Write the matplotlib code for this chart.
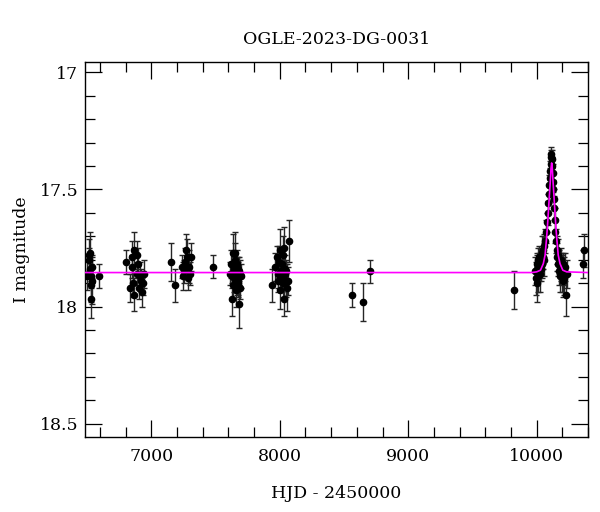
import matplotlib
matplotlib.use("Agg")
import matplotlib.pyplot as plt
from matplotlib.ticker import MultipleLocator

# ── photometry (HJD-2450000, I mag, error) ──
hjd = [
    # 2013
    6500, 6512, 6518, 6522, 6525, 6528, 6530, 6533, 6536, 6540, 6590,
    # 2014
    6800, 6835, 6847, 6852, 6858, 6862, 6868, 6886, 6892, 6899, 6905, 6912, 6920, 6928, 6935, 6945,
    # 2015
    7154, 7185, 7237, 7250, 7258, 7265, 7270, 7278, 7285, 7295, 7303, 7312, 7480,
    # 2016
    7615, 7620, 7625, 7630, 7634, 7638, 7640, 7645, 7648, 7652, 7655, 7658, 7662, 7665, 7668,
    7672, 7675, 7678, 7682, 7685, 7690, 7694, 7698,
    # 2017
    7936, 7965, 7975, 7985, 7990, 7995, 8000, 8005, 8008, 8012, 8016, 8020, 8024, 8028, 8032,
    8036, 8040, 8044, 8048, 8052, 8058, 8065, 8070,
    # sparse
    8565, 8650, 8705, 9820,
    # 2023 event
    9990, 9995, 10000, 10003, 10006, 10010, 10014, 10018, 10022, 10026, 10030, 10034, 10038,
    10042, 10046, 10050, 10055, 10060,
    10068, 10074, 10080, 10086, 10090, 10094, 10098, 10102, 10106, 10109, 10112, 10115, 10118,
    10121, 10124, 10127, 10130, 10133, 10137, 10141, 10146, 10152, 10158,
    10162, 10166, 10170, 10174, 10178, 10182, 10186, 10190, 10194, 10198, 10202, 10206, 10210,
    10215, 10220, 10232, 10240,
    10362, 10368,
]
mag = [
    17.87, 17.78, 17.80, 17.84, 17.77, 17.87, 17.91, 17.97, 17.83, 17.89, 17.87,
    17.81, 17.92, 17.83, 17.79, 17.90, 17.95, 17.76, 17.78, 17.86, 17.82, 17.92, 17.87, 17.89, 17.94, 17.90, 17.86,
    17.81, 17.91, 17.83, 17.87, 17.85, 17.81, 17.76, 17.79, 17.88, 17.83, 17.86, 17.79, 17.83,
    17.86, 17.82, 17.97, 17.87, 17.77, 17.91, 17.84, 17.88, 17.80, 17.77, 17.86, 17.93, 17.89, 17.82, 17.87,
    17.84, 17.90, 17.88, 17.99, 17.85, 17.92, 17.86, 17.87,
    17.91, 17.83, 17.79, 17.86, 17.89, 17.81, 17.93, 17.76, 17.85, 17.88, 17.82, 17.87, 17.90, 17.78, 17.97,
    17.75, 17.86, 17.84, 17.89, 17.85, 17.92, 17.89, 17.72,
    17.95, 17.98, 17.85, 17.93,
    17.85, 17.88, 17.82, 17.90, 17.84, 17.80, 17.87, 17.83, 17.79, 17.86, 17.81, 17.84, 17.77,
    17.82, 17.79, 17.76, 17.80, 17.74,
    17.72, 17.68, 17.64, 17.60, 17.56, 17.52, 17.48, 17.45, 17.42, 17.39, 17.36, 17.35, 17.37,
    17.40, 17.43, 17.47, 17.50, 17.54, 17.58, 17.63, 17.68, 17.72, 17.76,
    17.79, 17.82, 17.78, 17.85, 17.81, 17.87, 17.83, 17.80, 17.86, 17.84, 17.89, 17.82, 17.85,
    17.88, 17.83, 17.95, 17.86,
    17.82, 17.76,
]
err = [
    0.06, 0.07, 0.05, 0.06, 0.09, 0.05, 0.07, 0.08, 0.05, 0.10, 0.05,
    0.05, 0.06, 0.05, 0.07, 0.06, 0.07, 0.08, 0.06, 0.05, 0.07, 0.05, 0.06, 0.05, 0.06, 0.05, 0.06,
    0.08, 0.07, 0.05, 0.06, 0.05, 0.06, 0.07, 0.08, 0.05, 0.07, 0.05, 0.06, 0.05,
    0.05, 0.06, 0.07, 0.05, 0.08, 0.06, 0.05, 0.06, 0.07, 0.09, 0.05, 0.07, 0.05, 0.06, 0.08,
    0.05, 0.06, 0.07, 0.10, 0.06, 0.05, 0.06, 0.05,
    0.07, 0.06, 0.05, 0.06, 0.05, 0.07, 0.08, 0.09, 0.05, 0.06, 0.05, 0.07, 0.06, 0.08, 0.07,
    0.09, 0.05, 0.06, 0.07, 0.05, 0.10, 0.06, 0.09,
    0.05, 0.08, 0.05, 0.08,
    0.06, 0.07, 0.05, 0.08, 0.06, 0.05, 0.07, 0.06, 0.05, 0.08, 0.06, 0.05, 0.07,
    0.06, 0.05, 0.06, 0.07, 0.05,
    0.05, 0.05, 0.04, 0.05, 0.04, 0.04, 0.04, 0.04, 0.04, 0.04, 0.03, 0.03, 0.04,
    0.04, 0.04, 0.04, 0.04, 0.04, 0.05, 0.05, 0.05, 0.05, 0.06,
    0.06, 0.05, 0.07, 0.06, 0.05, 0.07, 0.06, 0.05, 0.08, 0.06, 0.07, 0.05, 0.06,
    0.07, 0.06, 0.09, 0.06,
    0.06, 0.07,
]

# ── model curve ──
model_t = [6485, 9960, 10000, 10030, 10052, 10066, 10076, 10084, 10094, 10100, 10107, 10112,
           10117, 10122, 10127, 10134, 10140, 10150, 10158, 10168, 10182, 10204, 10234, 10400]
model_m = [17.855, 17.855, 17.852, 17.845, 17.817, 17.78, 17.717, 17.66, 17.574, 17.52, 17.46, 17.41,
           17.387, 17.41, 17.46, 17.52, 17.574, 17.66, 17.717, 17.78, 17.817, 17.845, 17.852, 17.855]

plt.rcParams["font.family"] = ["DejaVu Serif"]
FS = 12.5

fig = plt.figure(figsize=(6.0, 5.12), dpi=100)
ax = fig.add_axes([0.142, 0.1465, 0.838, 0.732])

ax.errorbar(hjd, mag, yerr=err, fmt="o", color="black", ecolor="0.15",
            elinewidth=1.0, capsize=2.5, capthick=1.0, markersize=4.5, zorder=2)
ax.plot(model_t, model_m, color="#ff00ff", linewidth=1.2, zorder=3)

ax.set_xlim(6485, 10400)
ax.set_ylim(18.557, 16.957)
ax.xaxis.set_major_locator(MultipleLocator(1000))
ax.xaxis.set_minor_locator(MultipleLocator(200))
ax.yaxis.set_major_locator(MultipleLocator(0.5))
ax.yaxis.set_minor_locator(MultipleLocator(0.1))
ax.yaxis.set_major_formatter(plt.FuncFormatter(lambda v, p: f"{v:g}"))
ax.tick_params(which="both", direction="in", top=True, right=True, labelsize=FS, width=0.9)
ax.tick_params(which="major", length=12)
ax.tick_params(which="minor", length=7)
ax.tick_params(axis="x", which="major", pad=8)
ax.tick_params(axis="y", which="major", pad=5)
for s in ax.spines.values():
    s.set_linewidth(1.0)

ax.set_xlabel("HJD - 2450000", fontsize=FS, labelpad=14)
ax.set_ylabel("I magnitude", fontsize=FS, labelpad=7)
ax.set_title("OGLE-2023-DG-0031", fontsize=FS, pad=13)

fig.savefig("out.png", dpi=100)
